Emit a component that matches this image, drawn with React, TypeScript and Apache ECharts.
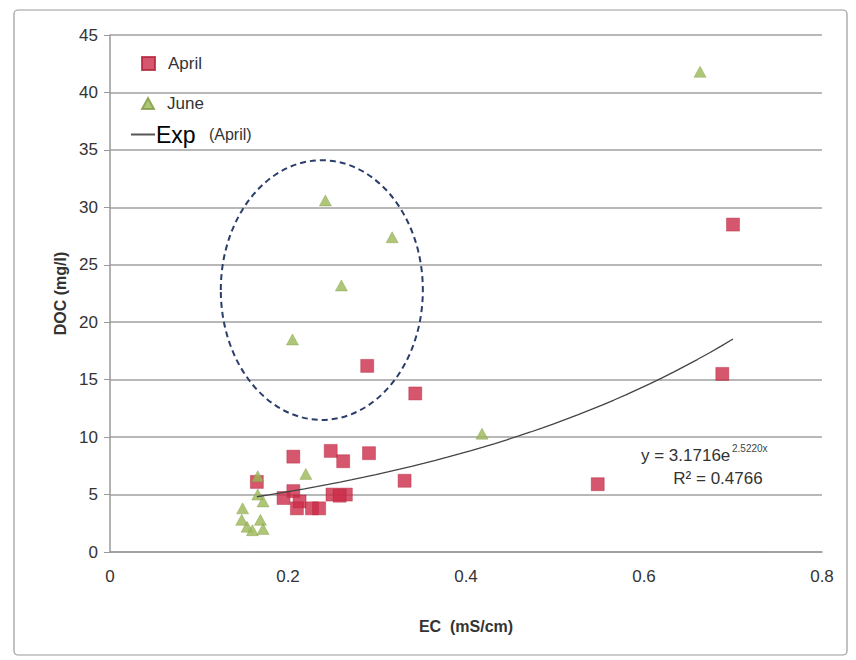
import React, { useEffect, useRef } from "react";
import * as echarts from "echarts";

const X_TICKS = [0, 0.2, 0.4, 0.6, 0.8];
const Y_TICKS = [0, 5, 10, 15, 20, 25, 30, 35, 40, 45];

const aprilEC = [0.70, 0.688, 0.289, 0.343, 0.206, 0.248, 0.262, 0.291, 0.331, 0.548, 0.165, 0.206, 0.195, 0.213, 0.210, 0.227, 0.235, 0.250, 0.265, 0.258];
const aprilDOC = [28.5, 15.5, 16.2, 13.8, 8.3, 8.8, 7.9, 8.6, 6.2, 5.9, 6.1, 5.3, 4.7, 4.4, 3.8, 3.8, 3.8, 5.0, 5.0, 4.9];

const juneEC = [0.663, 0.242, 0.317, 0.260, 0.205, 0.418, 0.220, 0.166, 0.166, 0.172, 0.149, 0.148, 0.154, 0.169, 0.172, 0.160];
const juneDOC = [41.8, 30.6, 27.4, 23.2, 18.5, 10.3, 6.8, 6.6, 5.0, 4.4, 3.8, 2.8, 2.2, 2.8, 2.0, 1.9];

// Exponential trend fitted to April (coefficients from the chart's label)
const TREND_A = 3.1716;
const TREND_B = 2.522;
const TREND_X_RANGE = [0.165, 0.70];
const TREND_STEPS = 40;

// Dashed ellipse annotation (data units)
const ELLIPSE_CENTER = [0.238, 22.8];
const ELLIPSE_RADII = [0.1135, 11.3];

const FONT = "'Liberation Sans', Arial, sans-serif";

export default function App() {
  const ref = useRef<HTMLDivElement>(null);
  useEffect(() => {
    document.body.style.margin = "0";
    if (!ref.current) return;
    const chart = echarts.init(ref.current, undefined, { renderer: "svg" });
    const april = aprilEC.map((x, i) => [x, aprilDOC[i]]);
    const june = juneEC.map((x, i) => [x, juneDOC[i]]);
    const trend: number[][] = [];
    for (let i = 0; i <= TREND_STEPS; i++) {
      const x = TREND_X_RANGE[0] + ((TREND_X_RANGE[1] - TREND_X_RANGE[0]) * i) / TREND_STEPS;
      trend.push([x, TREND_A * Math.exp(TREND_B * x)]);
    }
    chart.setOption({
      animation: false,
      backgroundColor: "#fff",
      textStyle: { fontFamily: FONT },
      grid: { left: 110, right: 34, top: 35, bottom: 108 },
      legend: [
        {
          data: ["April"], left: 136, top: 50, itemWidth: 13, itemHeight: 13, itemGap: 0,
          textStyle: { fontSize: 17, color: "#333", fontFamily: FONT, padding: [0, 0, 0, 8] },
        },
        {
          data: ["June"], left: 136, top: 90, itemWidth: 12, itemHeight: 11,
          textStyle: { fontSize: 17, color: "#333", fontFamily: FONT, padding: [0, 0, 0, 8] },
        },
        {
          data: ["Exp"], left: 126, top: 118, itemWidth: 24, itemHeight: 2, icon: "rect",
          formatter: "{big|Exp}    {small|(April)}",
          textStyle: {
            fontFamily: FONT, padding: [0, 0, 0, -4],
            rich: {
              big: { fontSize: 23, color: "#000", fontFamily: FONT },
              small: { fontSize: 16, color: "#333", fontFamily: FONT },
            },
          },
        },
      ],
      xAxis: {
        type: "value", min: X_TICKS[0], max: X_TICKS[X_TICKS.length - 1], interval: 0.2,
        name: "EC  (mS/cm)", nameLocation: "middle", nameGap: 66,
        nameTextStyle: { fontSize: 16, fontWeight: "bold", color: "#333", fontFamily: FONT },
        axisLine: { lineStyle: { color: "#999", width: 1.5 } },
        axisTick: { show: false },
        axisLabel: { fontSize: 17, color: "#333", margin: 16, fontFamily: FONT },
        splitLine: { show: false },
      },
      yAxis: {
        type: "value", min: Y_TICKS[0], max: Y_TICKS[Y_TICKS.length - 1], interval: 5,
        name: "DOC (mg/l)", nameLocation: "middle", nameGap: 40, nameRotate: 90,
        nameTextStyle: { fontSize: 16, fontWeight: "bold", color: "#333", fontFamily: FONT },
        axisLine: { show: true, lineStyle: { color: "#999", width: 1.5 } },
        axisTick: { show: true, length: 6, lineStyle: { color: "#999" } },
        axisLabel: { fontSize: 17, color: "#333", margin: 12, fontFamily: FONT },
        splitLine: { show: true, lineStyle: { color: "#a0a0a0", width: 1.5 } },
      },
      series: [
        {
          name: "April", type: "scatter", data: april, symbol: "rect", symbolSize: 13,
          itemStyle: { color: "#CC2C48", borderColor: "#b02038", borderWidth: 0.5 }, z: 3,
        },
        {
          name: "June", type: "scatter", data: june, symbol: "triangle", symbolSize: [12, 11],
          itemStyle: { color: "#9BB857", borderColor: "#7f9a40", borderWidth: 0.5 }, z: 4,
        },
        {
          name: "Exp", type: "line", data: trend, symbol: "none", smooth: false,
          lineStyle: { color: "#444", width: 1.3 }, itemStyle: { color: "#555" }, z: 5,
        },
      ],
    });
    const c = chart.convertToPixel({ gridIndex: 0 }, ELLIPSE_CENTER) as number[];
    const e = chart.convertToPixel({ gridIndex: 0 }, [ELLIPSE_CENTER[0] + ELLIPSE_RADII[0], ELLIPSE_CENTER[1] + ELLIPSE_RADII[1]]) as number[];
    chart.setOption({
      graphic: [
        {
          type: "rect", shape: { x: 14, y: 10, width: 833, height: 645, r: 4 },
          style: { fill: "none", stroke: "#9a9a9a", lineWidth: 1.2 }, silent: true, z: -1,
        },
        {
          type: "ellipse", shape: { cx: c[0], cy: c[1], rx: e[0] - c[0], ry: c[1] - e[1] },
          style: { fill: "none", stroke: "#2b3e6b", lineWidth: 2, lineDash: [6, 4] }, z: 10,
        },
        {
          type: "text", x: 641, y: 455,
          style: { text: "y = 3.1716e", fontSize: 17, fill: "#333", fontFamily: FONT, verticalAlign: "middle" }, z: 10,
        },
        {
          type: "text", x: 732, y: 448,
          style: { text: "2.5220x", fontSize: 10, fill: "#444", fontFamily: FONT, verticalAlign: "middle" }, z: 10,
        },
        {
          type: "text", x: 718, y: 478,
          style: { text: "R² = 0.4766", fontSize: 17, fill: "#333", fontFamily: FONT, align: "center", verticalAlign: "middle" }, z: 10,
        },
      ],
    });
    return () => chart.dispose();
  }, []);
  return <div ref={ref} style={{ width: 856, height: 660 }} />;
}
